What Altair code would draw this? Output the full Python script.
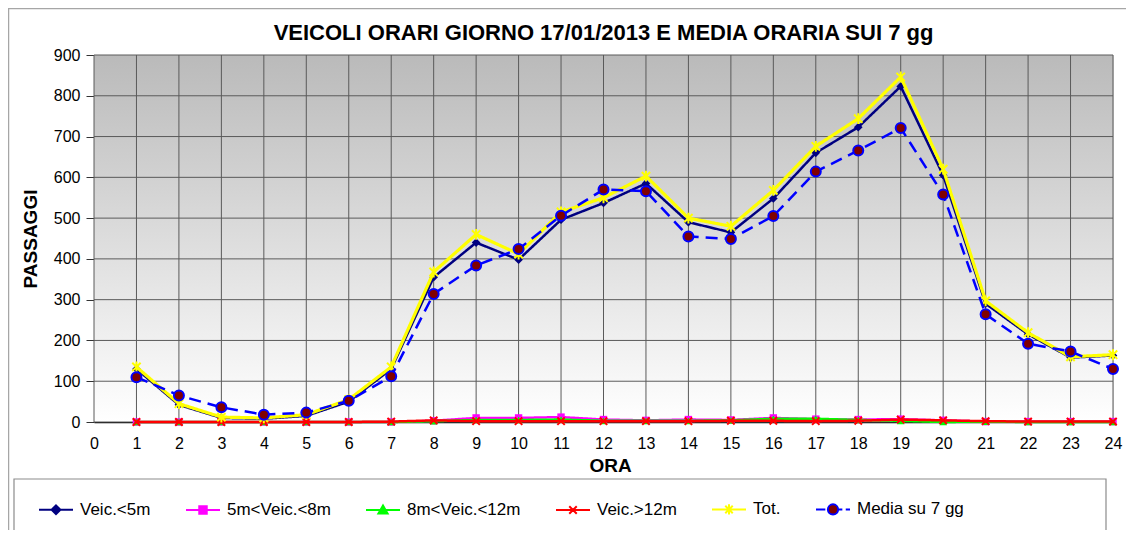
import altair as alt
import pandas as pd

# ---------------- data ----------------
hours = list(range(1, 25))
series_names = ["Veic.<5m", "5m<Veic.<8m", "8m<Veic.<12m", "Veic.>12m", "Tot.", "Media su 7 gg"]
veic_lt5 = [130, 42, 10, 8, 15, 50, 130, 355, 440, 398, 496, 537, 585, 490, 465, 548, 660, 723, 823, 605, 290, 215, 158, 163]
veic_5_8 = [0, 0, 0, 0, 0, 0, 0, 3, 10, 10, 12, 6, 4, 6, 5, 10, 7, 6, 7, 4, 1, 1, 1, 1]
veic_8_12 = [0, 0, 0, 0, 0, 0, 0, 2, 5, 5, 6, 3, 3, 3, 4, 8, 8, 5, 3, 0, 1, 0, 0, 0]
veic_gt12 = [0, 0, 0, 0, 0, 0, 1, 4, 2, 2, 2, 2, 2, 2, 3, 3, 2, 3, 6, 4, 2, 1, 1, 1]
tot = [135, 45, 12, 10, 18, 55, 135, 368, 460, 412, 515, 550, 603, 500, 480, 568, 676, 744, 846, 620, 297, 219, 160, 165]
media = [110, 65, 36, 18, 23, 52, 112, 314, 384, 424, 506, 570, 566, 455, 449, 505, 614, 666, 721, 558, 264, 192, 173, 130]
x_ticks = list(range(0, 25))
y_ticks = list(range(0, 1000, 100))
title_text = "VEICOLI ORARI GIORNO 17/01/2013 E MEDIA ORARIA SUI 7 gg"

all_values = [veic_lt5, veic_5_8, veic_8_12, veic_gt12, tot, media]
rows = []
for name, vals in zip(series_names, all_values):
    for h, v in zip(hours, vals):
        rows.append({"ora": h, "passaggi": v, "serie": name})
df = pd.DataFrame(rows)

# ---------------- styles ----------------
FONT = "Liberation Sans"
W, H = 1019, 367
line_colors = ["#000080", "#ff00ff", "#00ff00", "#ff0000", "#ffff00", "#0000ff"]
marker_fill = ["#000080", "#ff00ff", "#00ff00", "#ff0000", "#ffff00", "#800000"]
line_widths = [2.5, 2.5, 2.5, 2.5, 3.2, 2.5]
line_dash = [[1, 0], [1, 0], [1, 0], [1, 0], [1, 0], [12, 7]]
X_PATH = "M-1,-1L1,1M-1,1L1,-1"
STAR_PATH = "M-1,-1L1,1M-1,1L1,-1M0,-1.3L0,1.3"
marker_specs = [
    dict(shape="diamond", filled=True, size=75, color="#000080"),
    dict(shape="square", filled=True, size=55, color="#ff00ff"),
    dict(shape="triangle-up", filled=True, size=60, color="#00ff00"),
    dict(shape=X_PATH, filled=False, size=55, stroke="#ff0000", strokeWidth=2),
    dict(shape=STAR_PATH, filled=False, size=70, stroke="#ffff00", strokeWidth=2),
    dict(shape="circle", filled=True, size=100, fill="#800000", stroke="#0000ff", strokeWidth=2),
]
legend_paths = [
    "M-1,0H1M0,-0.26L0.26,0L0,0.26L-0.26,0Z",
    "M-1,0H1M-0.22,-0.22H0.22V0.22H-0.22Z",
    "M-1,0H1M0,-0.26L0.27,0.21H-0.27Z",
    "M-1,0H1M-0.22,-0.22L0.22,0.22M-0.22,0.22L0.22,-0.22",
    "M-1,0H1M-0.22,-0.22L0.22,0.22M-0.22,0.22L0.22,-0.22M0,-0.3V0.3",
    "M-1,0H-0.45M0.3,0H0.55M0.75,0H1M-0.3,0A0.3,0.3 0 1,0 0.3,0A0.3,0.3 0 1,0 -0.3,0Z",
]

x_enc = alt.X(
    "ora:Q",
    scale=alt.Scale(domain=[0, 24], nice=False, zero=False),
    axis=alt.Axis(
        values=x_ticks, format="d", title="ORA", titleFont=FONT, titleFontSize=19,
        titleFontWeight="bold", titleColor="black", titleX=516, titleY=43,
        titleBaseline="middle", titleAlign="center",
        labelFont=FONT, labelFontSize=16, labelColor="black", labelBaseline="middle",
        labelPadding=21, tickSize=0, domainColor="#000000", domainWidth=1.5,
        grid=False, labelFlush=False, labelOverlap=False,
    ),
)
y_enc = alt.Y(
    "passaggi:Q",
    scale=alt.Scale(domain=[0, 900], nice=False),
    axis=alt.Axis(
        values=y_ticks, title="PASSAGGI", titleFont=FONT, titleFontSize=19,
        titleFontWeight="bold", titleColor="black", titleAngle=270, titleX=-64,
        titleY=183.5, titleAlign="center", titleBaseline="middle",
        labelFont=FONT, labelFontSize=16, labelColor="black", labelPadding=6,
        tickSize=8, tickColor="#333333", domainColor="#333333", grid=False,
        labelFlush=False, labelOverlap=False,
    ),
)

one = pd.DataFrame({"k": [0]})

# outer frame, legend box and title (decoration)
frame = alt.Chart(one).mark_rect(filled=False, stroke="#a6a6a6", strokeWidth=1.5).encode(
    x=alt.value(-85.5), x2=alt.value(1060), y=alt.value(-46.5), y2=alt.value(500)
)
legend_box = alt.Chart(one).mark_rect(fill="white", stroke="#8c8c8c", strokeWidth=1.2).encode(
    x=alt.value(-80), x2=alt.value(1012), y=alt.value(424), y2=alt.value(481)
)
title = alt.Chart(one).mark_text(
    text=title_text, font=FONT, fontSize=22, fontWeight="bold", color="black",
    align="center", baseline="alphabetic",
).encode(x=alt.value(W / 2), y=alt.value(-15))

background = alt.Chart(one).mark_rect(
    fill=alt.LinearGradient(
        gradient="linear",
        stops=[alt.GradientStop(color="#bababa", offset=0), alt.GradientStop(color="#ffffff", offset=1)],
        x1=0, x2=0, y1=0, y2=1,
    )
).encode(x=alt.value(0), x2=alt.value(W), y=alt.value(0), y2=alt.value(H))

vgrid = alt.Chart(pd.DataFrame({"ora": x_ticks})).mark_rule(color="#5a5a5a", strokeWidth=1).encode(x=x_enc)
hgrid = alt.Chart(pd.DataFrame({"passaggi": y_ticks})).mark_rule(color="#5a5a5a", strokeWidth=1).encode(y=y_enc)

layers = [frame, legend_box, title, background, vgrid, hgrid]
for i, name in enumerate(series_names):
    base = alt.Chart(df).transform_filter(alt.datum.serie == name)
    layers.append(
        base.mark_line(color=line_colors[i], strokeWidth=line_widths[i], strokeDash=line_dash[i]).encode(
            x=x_enc, y=y_enc
        )
    )
    layers.append(base.mark_point(opacity=1, **marker_specs[i]).encode(x=x_enc, y=y_enc))

leg = alt.Legend(
    title=None, orient="none", legendX=-56, legendY=436, direction="horizontal",
    symbolSize=1156, symbolStrokeWidth=2, symbolOpacity=1, labelFont=FONT,
    labelFontSize=17, labelColor="black", labelOffset=6, columnPadding=31,
    padding=0, labelLimit=400,
)
legend_layer = alt.Chart(df).transform_filter("false").mark_point(filled=True, opacity=1).encode(
    shape=alt.Shape("serie:N", scale=alt.Scale(domain=series_names, range=legend_paths), legend=leg),
    fill=alt.Fill("serie:N", scale=alt.Scale(domain=series_names, range=marker_fill), legend=leg),
    stroke=alt.Stroke("serie:N", scale=alt.Scale(domain=series_names, range=line_colors), legend=leg),
)
layers.append(legend_layer)

chart = alt.layer(*layers).properties(
    width=W,
    height=H,
    autosize=alt.AutoSizeParams(type="none"),
    padding={"left": 86, "top": 47, "right": 13, "bottom": 108},
).configure_view(stroke="#5a5a5a", strokeWidth=1).configure(background="white")

chart.save("out.html", embed_options={"renderer": "svg", "actions": False})
